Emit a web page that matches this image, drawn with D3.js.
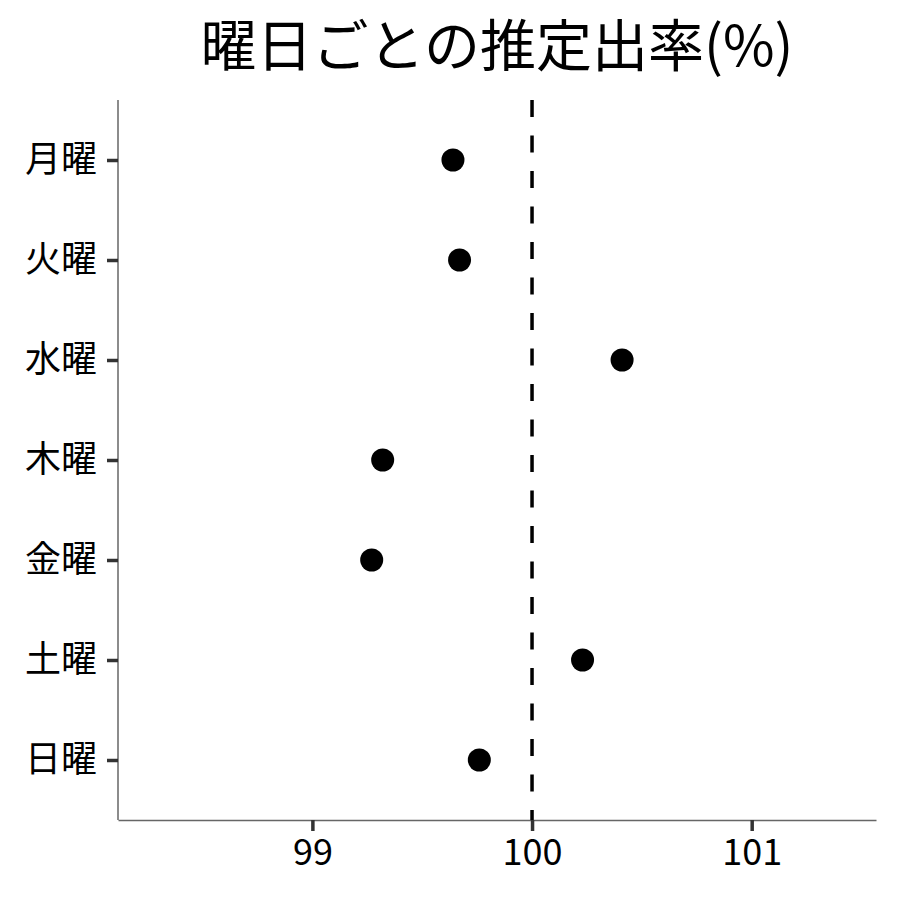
<!DOCTYPE html>
<html>
<head>
<meta charset="utf-8">
<script src="https://cdn.jsdelivr.net/npm/d3@7"></script>
<style>
  body { margin: 0; background: #fff; }
  text { font-family: "Noto Sans CJK JP", "Noto Sans", sans-serif; }
</style>
</head>
<body>
<div id="chart"></div>
<script>
"use strict";
// data
const days = ["月曜", "火曜", "水曜", "木曜", "金曜", "土曜", "日曜"];
const rates = [99.64, 99.67, 100.41, 99.32, 99.27, 100.23, 99.76];
const xTicks = [99, 100, 101];
const refValue = 100;
const titleText = "曜日ごとの推定出率(%)";

let dimensions = {width: 900, height: 900};
let margin = {top: 100, right: 24, bottom: 80, left: 118};
let width = dimensions.width - margin.left - margin.right,
    height = dimensions.height - margin.top - margin.bottom;

let svg = d3.select("#chart").append("svg")
    .attr("width", dimensions.width)
    .attr("height", dimensions.height);

let g = svg.append("g")
    .attr("transform", "translate(" + margin.left + "," + margin.top + ")");

// x: ggplot-like padded domain
let x = d3.scaleLinear()
    .domain([98.115, 101.566])
    .range([0, width]);

// y: discrete with 0.6 expand on each side
let y = d3.scalePoint()
    .domain(days)
    .range([0, height])
    .padding(0.6);

// Title
svg.append("text")
    .attr("x", margin.left + width / 2)
    .attr("y", 66)
    .attr("text-anchor", "middle")
    .style("font-size", "56px")
    .style("fill", "#000")
    .text(titleText);

// X axis
let xAxis = g.append("g")
    .attr("transform", "translate(0," + height + ")")
    .call(d3.axisBottom(x).tickValues(xTicks).tickFormat(d3.format("d"))
        .tickSize(11).tickSizeOuter(0).tickPadding(8));
xAxis.select(".domain").attr("stroke", "#666").attr("stroke-width", 1.5);
xAxis.selectAll(".tick line").attr("stroke", "#333").attr("stroke-width", 3.5);
xAxis.selectAll(".tick text")
    .style("font-size", "36px")
    .style("fill", "#000");

// Y axis
let yAxis = g.append("g")
    .call(d3.axisLeft(y).tickSize(11).tickSizeOuter(0).tickPadding(10));
yAxis.select(".domain").attr("stroke", "#666").attr("stroke-width", 1.5)
    .attr("d", "M0,0V" + height);
yAxis.selectAll(".tick line").attr("stroke", "#333").attr("stroke-width", 3.5);
yAxis.selectAll(".tick text")
    .style("font-size", "36px")
    .style("fill", "#000");

// Reference line at 100
g.append("line")
    .attr("x1", x(refValue))
    .attr("x2", x(refValue))
    .attr("y1", 0)
    .attr("y2", height)
    .attr("stroke", "#000")
    .attr("stroke-width", 3.5)
    .attr("stroke-dasharray", "17,18.5");

// Dots
g.append("g")
    .selectAll("circle")
    .data(days)
    .enter()
    .append("circle")
    .attr("cx", (d, i) => x(rates[i]))
    .attr("cy", d => y(d))
    .attr("r", 11.5)
    .attr("fill", "#000");
</script>
</body>
</html>
